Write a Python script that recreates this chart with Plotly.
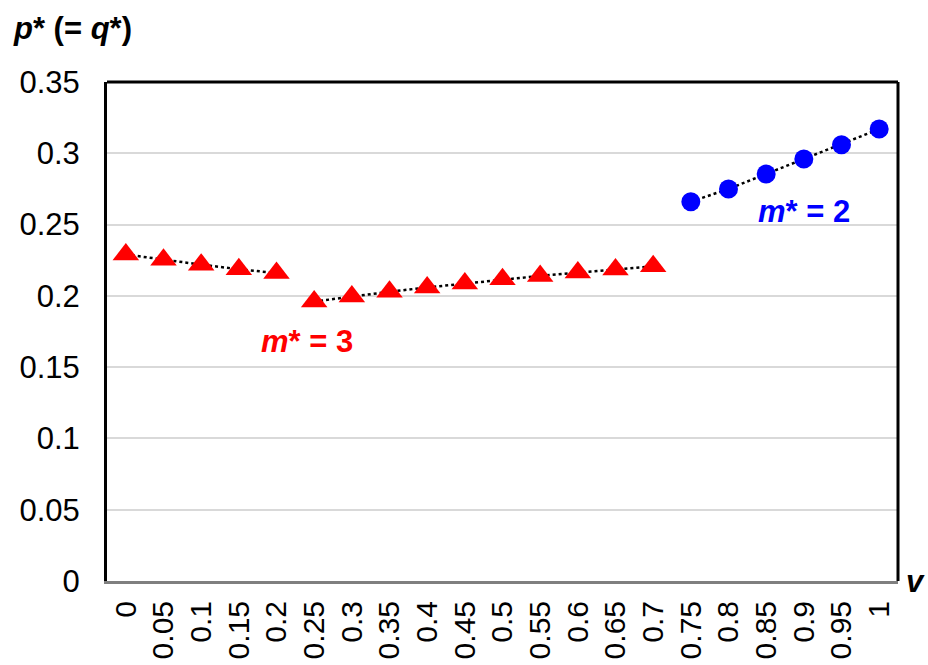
import plotly.graph_objects as go

# Equilibrium price p* (= q*) against v
v_labels = ["0", "0.05", "0.1", "0.15", "0.2", "0.25", "0.3", "0.35", "0.4", "0.45",
            "0.5", "0.55", "0.6", "0.65", "0.7", "0.75", "0.8", "0.85", "0.9", "0.95", "1"]

# m* = 3 regime, first branch (v = 0 .. 0.2)
v_m3a = ["0", "0.05", "0.1", "0.15", "0.2"]
p_m3a = [0.229, 0.2253, 0.2219, 0.2187, 0.216]

# m* = 3 regime, second branch (v = 0.25 .. 0.7)
v_m3b = ["0.25", "0.3", "0.35", "0.4", "0.45", "0.5", "0.55", "0.6", "0.65", "0.7"]
p_m3b = [0.196, 0.1996, 0.2029, 0.2059, 0.2087, 0.2116, 0.214, 0.2163, 0.2185, 0.2207]

# m* = 2 regime (v = 0.75 .. 1)
v_m2 = ["0.75", "0.8", "0.85", "0.9", "0.95", "1"]
p_m2 = [0.266, 0.275, 0.2855, 0.296, 0.306, 0.317]

FONT = "Liberation Sans, Arial, sans-serif"
RED = "#FF0000"
BLUE = "#0000FF"
FS = 31

fig = go.Figure()

# dotted connector lines drawn beneath the markers
for xs, ys in [(v_m3a, p_m3a), (v_m3b, p_m3b), (v_m2, p_m2)]:
    fig.add_trace(go.Scatter(x=xs, y=ys, mode="lines",
                             line=dict(color="black", width=2.5, dash="dot"),
                             hoverinfo="skip", showlegend=False))

for xs, ys in [(v_m3a, p_m3a), (v_m3b, p_m3b)]:
    fig.add_trace(go.Scatter(x=xs, y=ys, mode="markers",
                             marker=dict(symbol="triangle-up", size=23, color=RED,
                                         line=dict(width=0)),
                             showlegend=False))

fig.add_trace(go.Scatter(x=v_m2, y=p_m2, mode="markers",
                         marker=dict(symbol="circle", size=19, color=BLUE,
                                     line=dict(width=0)),
                         showlegend=False))

fig.update_layout(
    width=928, height=665,
    margin=dict(l=107, r=30, t=82, b=84),
    paper_bgcolor="white", plot_bgcolor="white",
    font=dict(family=FONT, size=FS, color="black"),
    showlegend=False,
)

fig.update_xaxes(
    type="category", categoryorder="array", categoryarray=v_labels,
    range=[-0.5, len(v_labels) - 0.5], automargin=False,
    tickmode="array", tickvals=v_labels, ticktext=v_labels,
    tickangle=-90, ticks="", ticklabelstandoff=5,
    showgrid=False, zeroline=False,
    showline=True, linecolor="#7f7f7f", linewidth=3, mirror=False,
    tickfont=dict(family=FONT, size=30, color="black"),
)

fig.update_yaxes(
    range=[0, 0.35], automargin=False, tickmode="array",
    tickvals=[0, 0.05, 0.1, 0.15, 0.2, 0.25, 0.3, 0.35],
    ticktext=["0", "0.05", "0.1", "0.15", "0.2", "0.25", "0.3", "0.35"],
    ticks="", ticklabelstandoff=18,
    showgrid=True, gridcolor="#d9d9d9", gridwidth=1.5,
    zeroline=False,
    showline=True, linecolor="black", linewidth=3, mirror=False,
    tickfont=dict(family=FONT, size=FS, color="black"),
)

# frame: top and right edges of the plotting area
fig.add_shape(type="line", xref="paper", yref="paper", x0=0, x1=1, y0=1, y1=1,
              line=dict(color="black", width=3))
fig.add_shape(type="line", xref="paper", yref="paper", x0=1, x1=1, y0=0, y1=1,
              line=dict(color="black", width=3))

fig.add_annotation(x=4.8, y=0.168, xref="x", yref="y",
                   text="<b><i>m</i>* = 3</b>", showarrow=False,
                   font=dict(family=FONT, size=FS, color=RED))
fig.add_annotation(x=18.0, y=0.259, xref="x", yref="y",
                   text="<b><i>m</i>* = 2</b>", showarrow=False,
                   font=dict(family=FONT, size=FS, color=BLUE))

# axis titles
fig.add_annotation(x=-96 / 791, y=1 + 54 / 499, xref="paper", yref="paper",
                   xanchor="left", yanchor="middle",
                   text="<b><i>p</i>* (= <i>q</i>*)</b>", showarrow=False,
                   font=dict(family=FONT, size=FS, color="black"))
fig.add_annotation(x=1 + 17 / 791, y=0, xref="paper", yref="paper",
                   xanchor="center", yanchor="middle",
                   text="<b><i>v</i></b>", showarrow=False,
                   font=dict(family=FONT, size=FS, color="black"))

fig.write_html("out.html")
